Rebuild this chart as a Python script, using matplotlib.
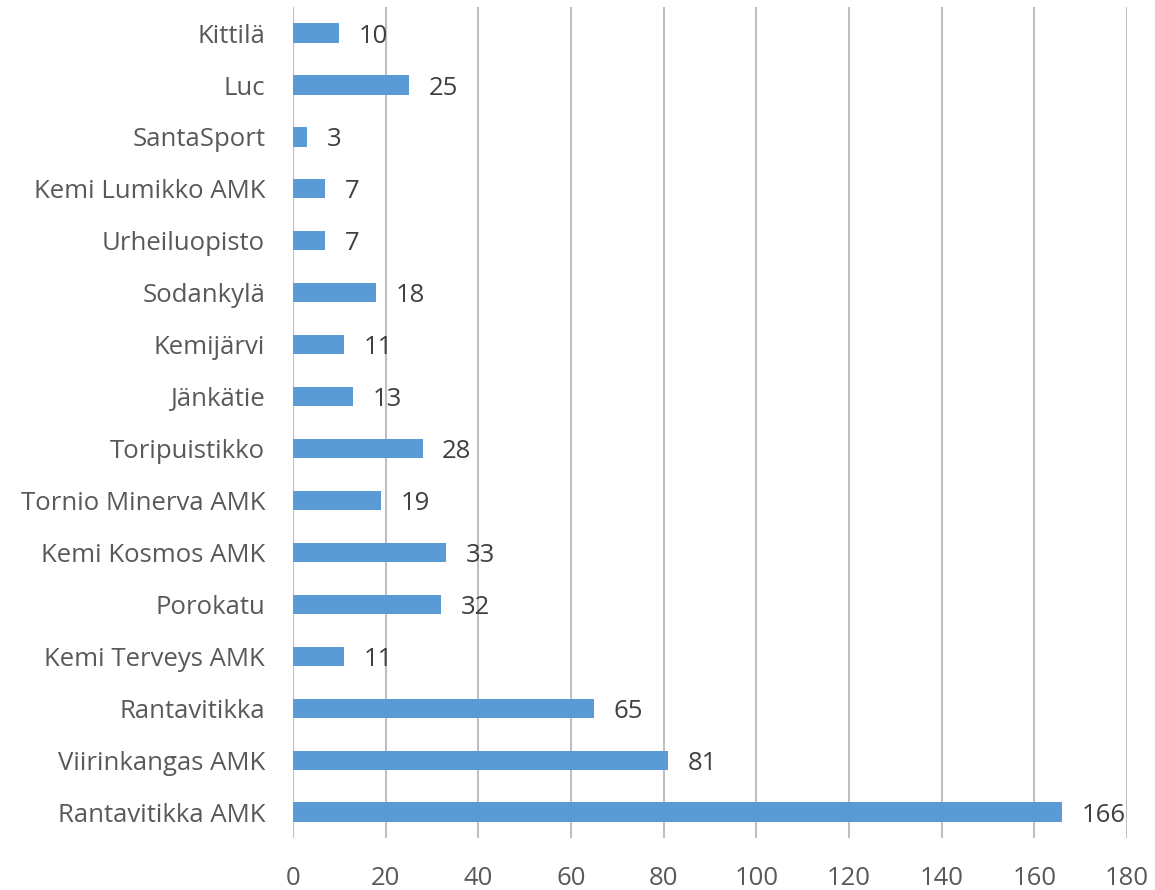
import matplotlib
matplotlib.use("Agg")
import matplotlib.pyplot as plt

# categories top to bottom as in the chart
kohteet = ["Kittilä", "Luc", "SantaSport", "Kemi Lumikko AMK", "Urheiluopisto",
           "Sodankylä", "Kemijärvi", "Jänkätie", "Toripuistikko", "Tornio Minerva AMK",
           "Kemi Kosmos AMK", "Porokatu", "Kemi Terveys AMK", "Rantavitikka",
           "Viirinkangas AMK", "Rantavitikka AMK"]
arvot = [10, 25, 3, 7, 7, 18, 11, 13, 28, 19, 33, 32, 11, 65, 81, 166]
x_ticks = list(range(0, 181, 20))

plt.rcParams["font.family"] = ["Open Sans", "DejaVu Sans"]
teksti = "#595959"
koko = 18.5

fig = plt.figure(figsize=(11.55, 8.9), dpi=100)
ax = fig.add_axes([0.2537, 0.0584, 0.7221, 0.9336])

y = list(range(len(kohteet)))
ax.barh(y, arvot, height=0.37, color="#5B9BD5", zorder=3)

for yi, v in zip(y, arvot):
    ax.annotate(str(v), (v, yi), xytext=(14, 0), textcoords="offset points",
                va="center_baseline", ha="left", fontsize=koko, color="#404040", zorder=4)

ax.set_yticks(y)
ax.set_yticklabels(kohteet, fontsize=koko, color=teksti, va="center_baseline")
ax.set_ylim(len(kohteet) - 0.5, -0.5)
ax.set_xlim(0, 180)
ax.set_xticks(x_ticks)
ax.set_xticklabels([str(t) for t in x_ticks], fontsize=koko, color=teksti)

ax.grid(axis="x", color="#BFBFBF", linewidth=1.5, zorder=0)
for s in ax.spines.values():
    s.set_visible(False)
ax.tick_params(axis="both", length=0)
ax.tick_params(axis="x", pad=20)
ax.tick_params(axis="y", pad=20)

fig.savefig("out.png", dpi=100)
